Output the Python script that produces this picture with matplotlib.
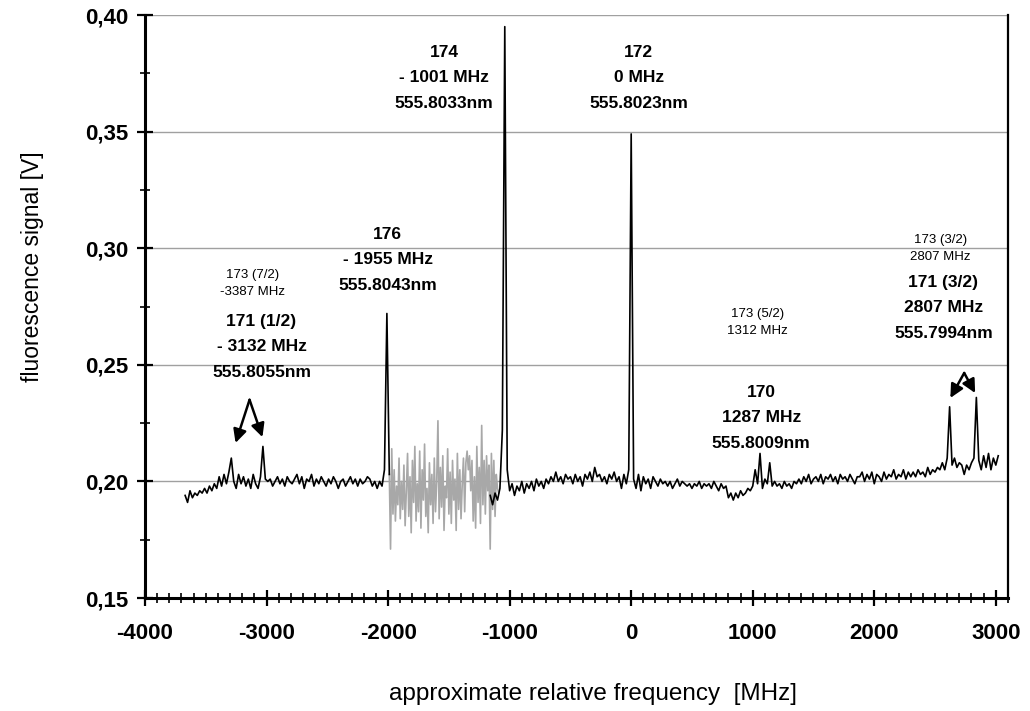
import numpy as np
import matplotlib
matplotlib.use("Agg")
import matplotlib.pyplot as plt
from matplotlib.ticker import MultipleLocator, FuncFormatter

plt.rcParams['font.family'] = ['Liberation Sans', 'DejaVu Sans']
plt.rcParams['axes.unicode_minus'] = False

# trace before the 176 line (start -3670 MHz, step 20 MHz)
start_a = -3670
sig_a = [0.194, 0.191, 0.196, 0.193, 0.195, 0.194, 0.196, 0.195, 0.197, 0.195,
         0.198, 0.196, 0.199, 0.197, 0.202, 0.198, 0.203, 0.199, 0.204, 0.210,
         0.200, 0.197, 0.203, 0.199, 0.202, 0.198, 0.201, 0.197, 0.203, 0.199,
         0.197, 0.202, 0.215, 0.201, 0.200,
         0.201, 0.198, 0.200, 0.202, 0.199, 0.201, 0.198, 0.202, 0.200, 0.199,
         0.201, 0.203, 0.199, 0.202, 0.197, 0.201, 0.200, 0.203, 0.198, 0.201,
         0.199, 0.202, 0.200, 0.198, 0.201, 0.199, 0.202, 0.200, 0.197, 0.200,
         0.201, 0.198, 0.200, 0.202, 0.199, 0.201, 0.198, 0.201, 0.199, 0.200,
         0.202, 0.201, 0.198, 0.200, 0.197, 0.200, 0.198,
         0.205, 0.272, 0.203]

# gray noisy part (start -1990 MHz, step 10 MHz)
start_gray = -1990
sig_gray = [0.203, 0.171, 0.214, 0.186, 0.205, 0.183, 0.198, 0.190, 0.210, 0.184,
            0.200, 0.188, 0.207, 0.181, 0.196, 0.212, 0.185, 0.202, 0.178, 0.209,
            0.191, 0.215, 0.183, 0.199, 0.187, 0.213, 0.180, 0.205, 0.192, 0.216,
            0.185, 0.197, 0.178, 0.208, 0.190, 0.203, 0.182, 0.210, 0.187, 0.200,
            0.226, 0.184, 0.206, 0.189, 0.211, 0.179, 0.198, 0.193, 0.214, 0.186,
            0.204, 0.182, 0.209, 0.192, 0.201, 0.179, 0.212, 0.188, 0.205, 0.184,
            0.199, 0.210, 0.187, 0.208, 0.213, 0.205, 0.211, 0.196, 0.209, 0.183,
            0.202, 0.180, 0.215, 0.191, 0.206, 0.182, 0.224, 0.190, 0.209, 0.186,
            0.211, 0.196, 0.207, 0.171, 0.212, 0.188, 0.209, 0.185, 0.203, 0.197,
            0.195]

# trace from the 174 line on (start -1160 MHz, step 20 MHz)
start_b = -1160
sig_b = [0.194, 0.190, 0.195, 0.192, 0.197, 0.222, 0.395, 0.205, 0.196, 0.199,
         0.194, 0.198, 0.196, 0.200, 0.195, 0.199, 0.197, 0.200, 0.196, 0.201,
         0.198, 0.200, 0.197, 0.201, 0.199, 0.202, 0.200, 0.204, 0.200, 0.202,
         0.199, 0.203, 0.201, 0.202, 0.199, 0.203, 0.200, 0.202, 0.198, 0.203,
         0.201, 0.204, 0.200, 0.206, 0.202, 0.203, 0.200, 0.202, 0.199, 0.203,
         0.201, 0.204, 0.200, 0.202, 0.197, 0.203, 0.199, 0.205, 0.349, 0.201,
         0.197, 0.203, 0.196, 0.202, 0.199, 0.201, 0.197, 0.202, 0.200, 0.198,
         0.201, 0.199, 0.200, 0.198, 0.200, 0.197, 0.199, 0.201, 0.198, 0.200,
         0.199,
         0.198, 0.199, 0.197, 0.199, 0.198, 0.200, 0.197, 0.199, 0.198, 0.199,
         0.197, 0.200, 0.198, 0.196, 0.199, 0.197, 0.198,
         0.193, 0.195, 0.192, 0.195, 0.193, 0.196, 0.194, 0.195, 0.197, 0.196,
         0.198,
         0.205, 0.199, 0.212, 0.197, 0.201, 0.199, 0.208, 0.198,
         0.200, 0.198, 0.199, 0.197, 0.200, 0.198, 0.199, 0.197, 0.200, 0.199,
         0.201,
         0.199, 0.202, 0.200, 0.203, 0.199, 0.201, 0.202, 0.200, 0.203, 0.199,
         0.202, 0.201, 0.203, 0.200, 0.202, 0.199, 0.203, 0.201, 0.202, 0.200,
         0.203, 0.201, 0.199, 0.202,
         0.202, 0.204, 0.200, 0.203, 0.201, 0.204, 0.199, 0.203, 0.202, 0.200,
         0.204, 0.201, 0.203, 0.202, 0.205, 0.201, 0.203, 0.202, 0.205, 0.201,
         0.204, 0.202, 0.204, 0.202, 0.205, 0.203, 0.204, 0.202, 0.206, 0.203,
         0.205, 0.204,
         0.206, 0.205, 0.208, 0.205, 0.210, 0.232, 0.207,
         0.210, 0.206, 0.208, 0.207, 0.203, 0.207, 0.205, 0.208, 0.210,
         0.236, 0.209,
         0.205, 0.211, 0.206, 0.212, 0.205, 0.210, 0.207, 0.211]

# labels: (text, x MHz, y V)
big_labels = [("174\n- 1001 MHz\n555.8033nm", -1540, 0.373),
              ("172\n0 MHz\n555.8023nm", 62, 0.373),
              ("176\n- 1955 MHz\n555.8043nm", -2002, 0.295),
              ("171 (1/2)\n- 3132 MHz\n555.8055nm", -3042, 0.2577),
              ("170\n1287 MHz\n555.8009nm", 1070, 0.2272),
              ("171 (3/2)\n2807 MHz\n555.7994nm", 2568, 0.2744)]
small_labels = [("173 (7/2)\n-3387 MHz", -3115, 0.285),
                ("173 (5/2)\n1312 MHz", 1037, 0.2683),
                ("173 (3/2)\n2807 MHz", 2544, 0.300)]
arrows = [((-3140, 0.235), (-3255, 0.2165)),
          ((-3140, 0.235), (-3034, 0.219)),
          ((2740, 0.2465), (2626, 0.2358)),
          ((2740, 0.2465), (2830, 0.2379))]

fig = plt.figure(figsize=(10.3, 7.11), dpi=100)
ax = fig.add_axes([0.1408, 0.1589, 0.8378, 0.82])

x_a = start_a + 20 * np.arange(len(sig_a))
x_g = start_gray + 10 * np.arange(len(sig_gray))
x_b = start_b + 20 * np.arange(len(sig_b))

ax.plot(x_g, sig_gray, color='#a8a8a8', lw=1.2, zorder=2)
ax.plot(x_a, sig_a, color='black', lw=1.2, zorder=3)
ax.plot(x_b, sig_b, color='black', lw=1.2, zorder=3)

ax.set_xlim(-4000, 3100)
ax.set_ylim(0.15, 0.40)
ax.xaxis.set_major_locator(MultipleLocator(1000))
ax.xaxis.set_minor_locator(MultipleLocator(100))
ax.yaxis.set_major_locator(MultipleLocator(0.05))
ax.yaxis.set_minor_locator(MultipleLocator(0.025))
ax.yaxis.set_major_formatter(FuncFormatter(lambda v, p: f"{v:.2f}".replace('.', ',')))
ax.xaxis.set_major_formatter(FuncFormatter(lambda v, p: f"{v:.0f}"))

ax.grid(axis='y', which='major', color='#a0a0a0', lw=1)
ax.set_axisbelow(True)

for s in ['left', 'bottom']:
    ax.spines[s].set_linewidth(2.2)
ax.spines['right'].set_linewidth(1.6)
ax.spines['top'].set_visible(False)

ax.tick_params(which='major', direction='inout', length=12, width=1.6, labelsize=16, pad=6)
ax.tick_params(which='minor', direction='inout', length=7, width=1.2)
ax.tick_params(axis='x', which='major', pad=12)
for t in ax.get_xticklabels() + ax.get_yticklabels():
    t.set_fontweight('bold')

ax.set_ylabel("fluorescence signal [V]", fontsize=16.5)
ax.set_xlabel("approximate relative frequency  [MHz]", fontsize=17.5)
ax.yaxis.set_label_coords(-0.117, 0.568)
ax.xaxis.set_label_coords(0.519, -0.145)

for txt, xx, yy in big_labels:
    ax.text(xx, yy, txt, ha='center', va='center', fontsize=12.5, fontweight='bold',
            linespacing=1.85)
for txt, xx, yy in small_labels:
    ax.text(xx, yy, txt, ha='center', va='center', fontsize=9.5, linespacing=1.55)
for start, end in arrows:
    ax.annotate('', xy=end, xytext=start,
                arrowprops=dict(arrowstyle='-|>', color='black', lw=1.8,
                                mutation_scale=20, shrinkA=0, shrinkB=0))

fig.savefig("out.png", dpi=100)
